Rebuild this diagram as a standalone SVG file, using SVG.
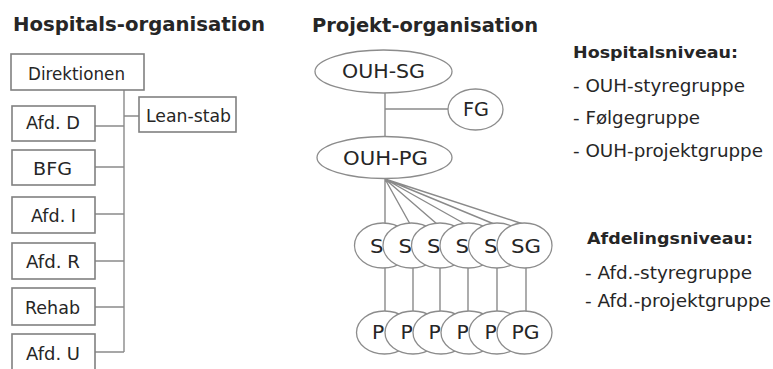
<svg xmlns="http://www.w3.org/2000/svg" width="773" height="369" viewBox="0 0 773 369">
<style>
text{font-family:"DejaVu Sans","Liberation Sans",sans-serif;fill:#262626}
.t{font-size:19.5px;font-weight:bold}
.h{font-size:16px;font-weight:bold}
.l{font-size:17.5px}
.n{font-size:17px;text-anchor:middle}
.e{font-size:19px;text-anchor:middle}
.box{fill:#fff;stroke:#808080;stroke-width:1.6}
.ell{fill:#fff;stroke:#8c8c8c;stroke-width:1.3}
.ln{stroke:#8a8a8a;stroke-width:1.4;fill:none}
</style>
<rect width="773" height="369" fill="#fff"/>
<text class="t" x="13" y="31" textLength="252" lengthAdjust="spacingAndGlyphs">Hospitals-organisation</text>
<text class="t" x="312" y="32" textLength="226" lengthAdjust="spacingAndGlyphs">Projekt-organisation</text>

<g id="connectors">
<path class="ln" d="M124 90V352M95 126H124M95 167H124M95 214H124M95 261H124M95 307H124M95 352H124M124 116H139"/>
<path class="ln" d="M385 93V137M385 109H448"/>
<path class="ln" d="M385 179V245M385 179L410 224M385 179L437 224M385 179L465 224M385 179L494 224M385 179L523 224"/>
<path class="ln" d="M385 245V332M413 245V332M440 245V332M468 245V332M497 245V332M526 245V332"/>
</g>

<g id="direktionen"><rect class="box" x="11" y="54" width="133" height="36"/><text class="n" x="76.5" y="80" textLength="97" lengthAdjust="spacingAndGlyphs">Direktionen</text></g>
<g id="lean-stab"><rect class="box" x="139" y="97" width="97" height="35"/><text class="n" x="188.5" y="122" textLength="85" lengthAdjust="spacingAndGlyphs">Lean-stab</text></g>
<g id="afd-d"><rect class="box" x="12" y="106" width="83" height="35"/><text class="n" x="53" y="129" textLength="54" lengthAdjust="spacingAndGlyphs">Afd. D</text></g>
<g id="bfg"><rect class="box" x="12" y="150" width="83" height="35"/><text class="n" x="52.5" y="175" textLength="39" lengthAdjust="spacingAndGlyphs">BFG</text></g>
<g id="afd-i"><rect class="box" x="12" y="197" width="83" height="36"/><text class="n" x="53.5" y="222" textLength="45" lengthAdjust="spacingAndGlyphs">Afd. I</text></g>
<g id="afd-r"><rect class="box" x="12" y="243" width="83" height="36"/><text class="n" x="53" y="268" textLength="54" lengthAdjust="spacingAndGlyphs">Afd. R</text></g>
<g id="rehab"><rect class="box" x="12" y="288" width="83" height="37"/><text class="n" x="52.5" y="314" textLength="55" lengthAdjust="spacingAndGlyphs">Rehab</text></g>
<g id="afd-u"><rect class="box" x="12" y="334" width="83" height="37"/><text class="n" x="53" y="360" textLength="54" lengthAdjust="spacingAndGlyphs">Afd. U</text></g>

<g id="ouh-sg"><ellipse class="ell" cx="383.5" cy="71.5" rx="68.5" ry="21.5"/><text class="e" x="383.5" y="78" textLength="83" lengthAdjust="spacingAndGlyphs">OUH-SG</text></g>
<g id="fg"><ellipse class="ell" cx="475.5" cy="109.5" rx="27.5" ry="20.5"/><text class="e" x="476" y="116" textLength="26" lengthAdjust="spacingAndGlyphs">FG</text></g>
<g id="ouh-pg"><ellipse class="ell" cx="384.5" cy="157.5" rx="67.5" ry="21"/><text class="e" x="385.5" y="165" textLength="85" lengthAdjust="spacingAndGlyphs">OUH-PG</text></g>

<g id="sg1"><ellipse class="ell" cx="383" cy="245.5" rx="28.5" ry="22.5"/><text class="e" x="385" y="253" textLength="30" lengthAdjust="spacingAndGlyphs">SG</text></g>
<g id="sg2"><ellipse class="ell" cx="411.5" cy="245.5" rx="28.5" ry="22.5"/><text class="e" x="413.5" y="253" textLength="30" lengthAdjust="spacingAndGlyphs">SG</text></g>
<g id="sg3"><ellipse class="ell" cx="440" cy="245.5" rx="28.5" ry="22.5"/><text class="e" x="442" y="253" textLength="30" lengthAdjust="spacingAndGlyphs">SG</text></g>
<g id="sg4"><ellipse class="ell" cx="468.5" cy="245.5" rx="28.5" ry="22.5"/><text class="e" x="470.5" y="253" textLength="30" lengthAdjust="spacingAndGlyphs">SG</text></g>
<g id="sg5"><ellipse class="ell" cx="497" cy="245.5" rx="28.5" ry="22.5"/><text class="e" x="499" y="253" textLength="30" lengthAdjust="spacingAndGlyphs">SG</text></g>
<g id="sg6"><ellipse class="ell" cx="524.5" cy="245.5" rx="27.5" ry="22.5"/><text class="e" x="526" y="253" textLength="30" lengthAdjust="spacingAndGlyphs">SG</text></g>

<g id="pg1"><ellipse class="ell" cx="384.5" cy="332.5" rx="28" ry="21.5"/><text class="e" x="386" y="339" textLength="28" lengthAdjust="spacingAndGlyphs">PG</text></g>
<g id="pg2"><ellipse class="ell" cx="413" cy="332.5" rx="28" ry="21.5"/><text class="e" x="414.5" y="339" textLength="28" lengthAdjust="spacingAndGlyphs">PG</text></g>
<g id="pg3"><ellipse class="ell" cx="441" cy="332.5" rx="28" ry="21.5"/><text class="e" x="442.5" y="339" textLength="28" lengthAdjust="spacingAndGlyphs">PG</text></g>
<g id="pg4"><ellipse class="ell" cx="469" cy="332.5" rx="28" ry="21.5"/><text class="e" x="470.5" y="339" textLength="28" lengthAdjust="spacingAndGlyphs">PG</text></g>
<g id="pg5"><ellipse class="ell" cx="497" cy="332.5" rx="28" ry="21.5"/><text class="e" x="498.5" y="339" textLength="28" lengthAdjust="spacingAndGlyphs">PG</text></g>
<g id="pg6"><ellipse class="ell" cx="524.5" cy="332.5" rx="27.5" ry="21.5"/><text class="e" x="525.5" y="339" textLength="28" lengthAdjust="spacingAndGlyphs">PG</text></g>

<text class="h" x="573" y="58" textLength="165" lengthAdjust="spacingAndGlyphs">Hospitalsniveau:</text>
<text class="l" x="573" y="92" textLength="172" lengthAdjust="spacingAndGlyphs">- OUH-styregruppe</text>
<text class="l" x="573" y="124" textLength="127" lengthAdjust="spacingAndGlyphs">- Følgegruppe</text>
<text class="l" x="573" y="157" textLength="190" lengthAdjust="spacingAndGlyphs">- OUH-projektgruppe</text>
<text class="h" x="587" y="244" textLength="166" lengthAdjust="spacingAndGlyphs">Afdelingsniveau:</text>
<text class="l" x="585" y="279" textLength="167" lengthAdjust="spacingAndGlyphs">- Afd.-styregruppe</text>
<text class="l" x="585" y="307" textLength="186" lengthAdjust="spacingAndGlyphs">- Afd.-projektgruppe</text>
</svg>
